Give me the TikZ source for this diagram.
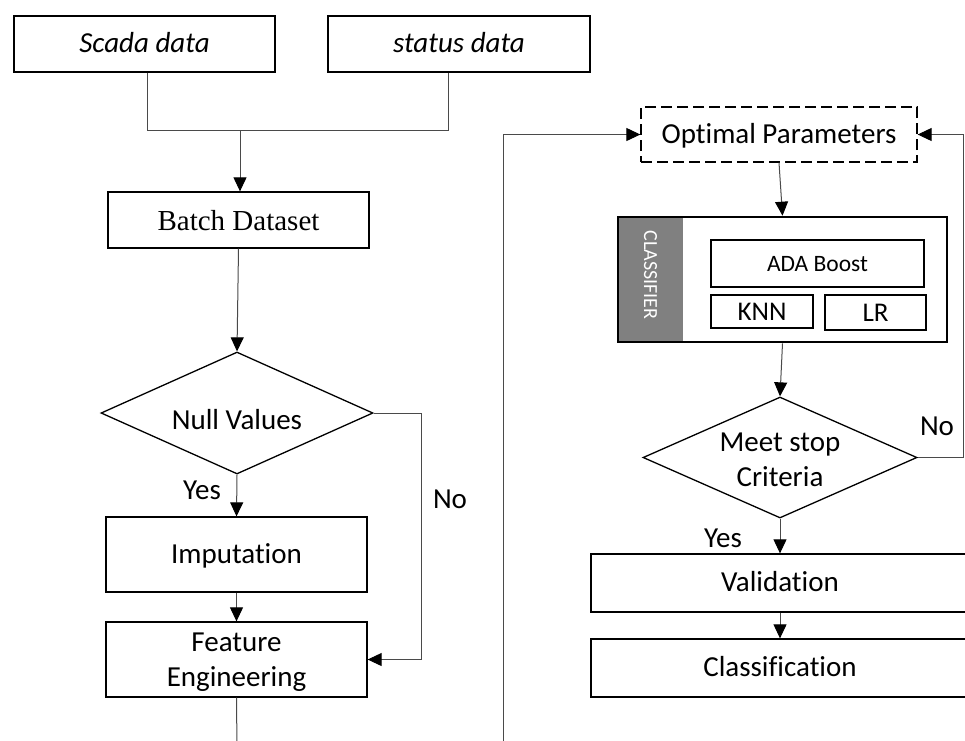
\documentclass[tikz,border=0pt]{standalone}
\usepackage{fontspec}
\setmainfont{Carlito}[Ligatures=NoCommon]
\newfontfamily\serifface{Liberation Serif}
\usetikzlibrary{arrows.meta,shapes.geometric,calc}
\definecolor{linegray}{HTML}{4A4A4A}
\definecolor{stripgray}{HTML}{808080}

\tikzset{
  base/.style={inner sep=0pt,align=center,font=\fontsize{29}{34.5}\selectfont},
  box/.style={base,draw=black,line width=1.3pt},
  oneline/.style={text height=20pt,text depth=2.5pt},
  decision/.style={draw=black,line width=1.3pt,shape=diamond,inner sep=0pt},
  conn/.style={draw=linegray,line width=1pt},
  arr/.style={-{Triangle[length=14pt,width=13pt,fill=black,color=black]}},
  lbl/.style={inner sep=0pt,anchor=base,font=\fontsize{29}{34}\selectfont},
  inner/.style={draw=black,line width=1.1pt,inner sep=0pt,text height=18pt,text depth=1pt},
}

\begin{document}
\begin{tikzpicture}[x=1pt,y=-1pt]
\clip (0,0) rectangle (965,740);
\fill[white] (0,0) rectangle (965,740);

% data sources and preprocessing
\node[box,oneline,minimum width=261pt,minimum height=56pt,font=\fontsize{29}{34}\selectfont\itshape]
  (scada) at (144.5,44) {Scada data};
\node[box,oneline,minimum width=262pt,minimum height=56pt,font=\fontsize{29}{34}\selectfont\itshape]
  (status) at (459,44) {status data};
\node[box,text height=22pt,text depth=2pt,minimum width=261pt,minimum height=56pt,font=\fontsize{29}{34}\selectfont\serifface]
  (batch) at (238.5,220) {Batch Dataset};
\node[decision,minimum width=272pt,minimum height=122pt] (null) at (237,413) {};
\node[base] (nulltxt) at (237,420) {Null Values};
\node[box,oneline,minimum width=261pt,minimum height=75pt] (imp) at (236.5,554.5) {Imputation};
\node[box,minimum width=261pt,minimum height=75pt] (fe) at (236.5,659.5) {};
\node[base] (fetxt) at (236.5,662) {Feature\\Engineering};

% model selection loop
\node[box,oneline,dash pattern=on 11pt off 5pt,minimum width=276pt,minimum height=55pt]
  (opt) at (779,134.5) {Optimal Parameters};
\node[inner sep=0pt,minimum width=329pt,minimum height=125pt] (clf) at (782.5,279.5) {};
\node[fill=stripgray,inner sep=0pt,anchor=north west,minimum width=65pt,minimum height=125pt]
  (strip) at (clf.north west) {};
\node[draw=black,line width=2.6pt,inner sep=0pt,minimum width=329pt,minimum height=125pt]
  (clfframe) at (clf.center) {};
\node[inner sep=0pt,rotate=-90,text=white,font=\fontsize{20}{24}\selectfont]
  (clftxt) at (650.5,275) {CLASSIFIER};
\node[inner,font=\fontsize{23.5}{28}\selectfont,text height=16pt,text depth=0pt,
  minimum width=213pt,minimum height=47pt] (ada) at (817.5,263.5) {ADA Boost};
\node[inner,font=\fontsize{27}{30}\selectfont,
  minimum width=102pt,minimum height=33pt] (knn) at (762,311.5) {KNN};
\node[inner,font=\fontsize{27}{30}\selectfont,
  minimum width=101pt,minimum height=35pt] (lr) at (875.5,312.5) {LR};
\node[decision,minimum width=274pt,minimum height=121pt] (meet) at (780,457.5) {};
\node[base] (meettxt) at (780,460) {Meet stop\\Criteria};
\node[box,oneline,minimum width=378pt,minimum height=58pt] (val) at (780,583) {Validation};
\node[box,oneline,minimum width=378pt,minimum height=58pt] (cls) at (780,668) {Classification};

% helper points for the connectors
\coordinate (sa) at ([xshift=2.5pt]scada.south);
\coordinate (sb) at ([xshift=-11pt]status.south);
\coordinate (j) at (240,130);
\coordinate (nullout) at (421,413);
\coordinate (febottom) at (237,750);
\coordinate (leftfoot) at (503,750);
\coordinate (rloop) at (963,134.5);

% connectors
\draw[conn] (sa) -- (sa |- j) -- (sb |- j) -- (sb);
\draw[conn,arr] (j) -- (batch.north -| j);
\draw[conn,arr] (batch.south) -- (null.north);
\draw[conn,arr] (null.south) -- (imp.north);
\draw[conn,arr] (null.east) -- (nullout) |- (fe.east);
\draw[conn,arr] (imp.south) -- (fe.north);
\draw[conn] (fe.south) -- (febottom);
\draw[conn,arr] (leftfoot) |- (opt.west);
\draw[conn,arr] (opt.south) -- (clfframe.north);
\draw[conn,arr] (clfframe.south) -- (meet.north);
\draw[conn,arr] (meet.east) -| (rloop) -- (opt.east);
\draw[conn,arr] (meet.south) -- (val.north);
\draw[conn,arr] (val.south) -- (cls.north);

% branch labels
\node[lbl] (yes1) at (202,499) {Yes};
\node[lbl] (no1) at (450,508) {No};
\node[lbl] (no2) at (937,435) {No};
\node[lbl] (yes2) at (723,547) {Yes};
\end{tikzpicture}
\end{document}
